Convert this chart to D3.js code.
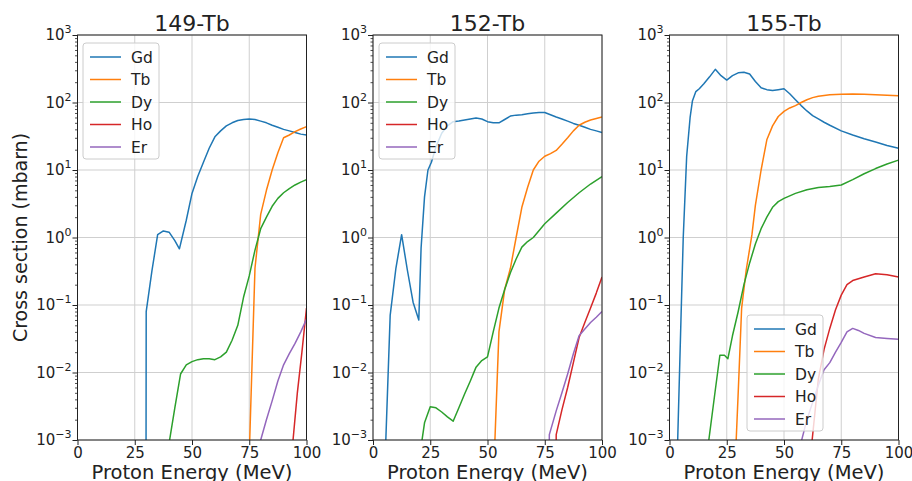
<!DOCTYPE html>
<html><head><meta charset="utf-8">
<script src="https://cdn.jsdelivr.net/npm/d3@7"></script>
<style>
body{margin:0;background:#fff}
text{font-family:"DejaVu Sans",sans-serif;fill:#222}
</style>
</head><body>
<svg id="c" width="912" height="481"></svg>
<script>
// ---------- data (energy MeV, cross section mbarn; 0 = no production) ----------
const elements = ["Gd","Tb","Dy","Ho","Er"];
const colors = ["#1f77b4","#ff7f0e","#2ca02c","#d62728","#9467bd"];
const titles = ["149-Tb","152-Tb","155-Tb"];
const xTicks = [0,25,50,75,100];
const yMajor = [1e-3,1e-2,1e-1,1,10,100,1000];
const yExp = ["\u22123","\u22122","\u22121","0","1","2","3"];

const p149_Gd = [[29,0],[30,0.08],[32.5,0.32],[35,1.1],[37.5,1.25],[40,1.2],[42.5,0.9],[44.5,0.68],[47.5,1.8],[50,4.5],[52.5,8],[55,13],[57.5,21],[60,31],[62.5,38],[65,45],[67.5,50],[70,54],[72.5,56],[75,57],[77.5,56],[80,53],[82.5,50],[85,46],[87.5,43],[90,40],[92.5,38],[95,36],[97.5,34],[100,33]];
const p149_Tb = [[74,0],[75,0.0006],[77.5,0.35],[80,2.2],[82.5,5],[85,10],[87.5,18],[90,30],[92.5,33],[95,37],[97.5,40.5],[100,44]];
const p149_Dy = [[39,0],[40,0.0009],[42.5,0.003],[45,0.0095],[47.5,0.013],[50,0.0145],[52.5,0.0155],[55,0.016],[57.5,0.016],[60,0.0155],[62.5,0.017],[65,0.02],[67.5,0.03],[70,0.05],[72.5,0.13],[75,0.27],[77.5,0.65],[80,1.35],[82.5,2.0],[85,2.9],[87.5,3.8],[90,4.6],[92.5,5.3],[95,6.0],[97.5,6.6],[100,7.2]];
const p149_Ho = [[93,0],[94,0.0009],[96,0.005],[98,0.02],[100,0.09]];
const p149_Er = [[79,0],[80,0.001],[82.5,0.002],[85,0.0038],[87.5,0.0075],[90,0.013],[92.5,0.019],[95,0.027],[97.5,0.04],[100,0.062]];

const p152_Gd = [[4.5,0],[5.5,0.0008],[7.5,0.07],[10,0.35],[12.5,1.1],[15,0.33],[17.5,0.11],[20,0.06],[21,0.7],[22.5,4],[24,10],[25.5,13],[27.5,22],[30,35],[32.5,45],[35,52],[37.5,53],[40,55],[42.5,57],[45,59],[47.5,57],[50,52],[52.5,50],[55,50],[57.5,56],[60,63],[62.5,65],[65,66],[67.5,68],[70,70],[72.5,71],[75,71],[77.5,66],[80,61],[82.5,57],[85,53],[87.5,49],[90,46],[92.5,43],[95,40],[97.5,38],[100,36]];
const p152_Tb = [[52,0],[53,0.0006],[55,0.04],[57.5,0.17],[60,0.35],[62.5,1.0],[65,2.8],[67.5,5.5],[70,10],[72.5,13.5],[75,16],[77.5,17.5],[80,19.5],[82.5,24],[85,30],[87.5,38],[90,46],[92.5,51],[95,55],[97.5,58],[100,61]];
const p152_Dy = [[20,0],[21,0.0008],[22.5,0.0018],[25,0.0031],[27.5,0.003],[30,0.0026],[32.5,0.0022],[35,0.0019],[37.5,0.003],[40,0.0048],[42.5,0.0075],[45,0.012],[47.5,0.015],[50,0.017],[52.5,0.04],[55,0.09],[57.5,0.17],[60,0.3],[62.5,0.48],[65,0.72],[67.5,0.87],[70,1.0],[75,1.6],[80,2.3],[85,3.3],[90,4.6],[95,6.2],[100,8.0]];
const p152_Ho = [[79,0],[80,0.0012],[82.5,0.0028],[85,0.006],[87.5,0.014],[90,0.033],[92.5,0.055],[95,0.09],[97.5,0.15],[100,0.26]];
const p152_Er = [[76,0],[77,0.0012],[80,0.0027],[82.5,0.005],[85,0.0095],[87.5,0.019],[90,0.035],[92.5,0.044],[95,0.055],[97.5,0.066],[100,0.08]];

const p155_Gd = [[2.5,0],[3.5,0.0008],[5,0.06],[6,1.0],[7.5,16],[9,60],[10,105],[11.5,145],[13,160],[15,190],[17.5,240],[20,310],[22.5,250],[25,215],[27.5,250],[30,275],[32.5,280],[35,265],[37.5,205],[40,165],[42.5,155],[45,150],[47.5,155],[50,160],[52.5,135],[55,110],[57.5,90],[60,75],[62.5,64],[65,57],[67.5,51],[70,46],[75,38],[80,33],[85,29],[90,26],[95,23],[100,21]];
const p155_Tb = [[28,0],[29,0.0008],[30,0.005],[31.5,0.09],[33.5,0.33],[36,1.1],[37.5,3],[40,10],[42.5,28],[45,45],[47.5,62],[50,74],[52.5,83],[55,90],[57.5,100],[60,110],[62.5,118],[65,124],[70,130],[75,133],[80,134],[85,133],[90,130],[95,128],[100,126]];
const p155_Dy = [[16,0],[17,0.0009],[20,0.0055],[22,0.018],[24,0.018],[25.5,0.016],[27.5,0.035],[30,0.08],[32.5,0.2],[35,0.42],[37.5,0.8],[40,1.35],[42.5,2.0],[45,2.8],[47.5,3.4],[50,3.8],[55,4.5],[60,5.1],[65,5.5],[70,5.7],[75,6.0],[80,7.2],[85,8.8],[90,10.5],[95,12.3],[100,14]];
const p155_Ho = [[61,0],[62,0.0008],[65,0.008],[67.5,0.022],[70,0.045],[72.5,0.085],[75,0.14],[77.5,0.2],[80,0.23],[85,0.26],[90,0.29],[95,0.28],[100,0.26]];
const p155_Er = [[56,0],[57,0.0008],[60,0.002],[65,0.0065],[67.5,0.011],[70,0.014],[72.5,0.02],[75,0.028],[77.5,0.04],[80,0.045],[82.5,0.042],[85,0.038],[90,0.033],[95,0.032],[100,0.031]];

const panelData = [
  [p149_Gd,p149_Tb,p149_Dy,p149_Ho,p149_Er],
  [p152_Gd,p152_Tb,p152_Dy,p152_Ho,p152_Er],
  [p155_Gd,p155_Tb,p155_Dy,p155_Ho,p155_Er]
];

// ---------- layout ----------
const svg = d3.select("#c");
const yTop = 35, yBot = 440, pw = 229;
const lefts = [77.5, 373, 669.5];
const legendPos = [{x:83,y:43},{x:379,y:43},{x:747,y:315}];

const y = d3.scaleLog().domain([1e-3,1e3]).range([yBot, yTop]);
const minors = [];
for (let e=-3; e<3; e++) for (let m=2; m<=9; m++) minors.push(m*Math.pow(10,e));

panelData.forEach((series, pi) => {
  const L = lefts[pi];
  const x = d3.scaleLinear().domain([0,100]).range([L, L+pw]);
  const g = svg.append("g");

  // grid
  g.append("g").selectAll("line").data(xTicks).join("line")
    .attr("x1", d=>x(d)).attr("x2", d=>x(d)).attr("y1", yTop).attr("y2", yBot)
    .attr("stroke", "#cfcfcf").attr("stroke-width", 1);
  g.append("g").selectAll("line").data(yMajor).join("line")
    .attr("x1", L).attr("x2", L+pw).attr("y1", d=>y(d)).attr("y2", d=>y(d))
    .attr("stroke", "#cfcfcf").attr("stroke-width", 1);

  // clip
  const cid = "clip"+pi;
  svg.append("clipPath").attr("id", cid).append("rect")
    .attr("x", L).attr("y", yTop).attr("width", pw).attr("height", yBot-yTop);

  const line = d3.line().x(d=>x(d[0])).y(d=>y(Math.max(d[1], 1e-30)));
  const lg = g.append("g").attr("clip-path", `url(#${cid})`);
  series.forEach((s, si) => {
    lg.append("path").attr("d", line(s)).attr("fill","none")
      .attr("stroke", colors[si]).attr("stroke-width", 1.5).attr("stroke-linejoin","round");
  });

  // axes
  const xa = g.append("g").attr("transform", `translate(0,${yBot})`)
    .call(d3.axisBottom(x).tickValues(xTicks).tickSize(5).tickPadding(2).tickFormat(d3.format("d")));
  xa.select(".domain").remove();
  xa.selectAll("line").attr("stroke","#222");
  xa.selectAll("text").attr("font-size", 15).attr("font-family","DejaVu Sans").attr("fill","#222");

  const ya = g.append("g").attr("transform", `translate(${L},0)`)
    .call(d3.axisLeft(y).tickValues(yMajor).tickSize(5).tickFormat(""));
  ya.select(".domain").remove();
  ya.selectAll("line").attr("stroke","#222");
  const ym = g.append("g").attr("transform", `translate(${L},0)`)
    .call(d3.axisLeft(y).tickValues(minors).tickSize(2.5).tickFormat(""));
  ym.select(".domain").remove();
  ym.selectAll("line").attr("stroke","#222").attr("stroke-width",0.8);

  // y tick labels "10^n", right-aligned as a whole
  const lab = g.append("g").selectAll("text").data(yMajor).join("text")
    .attr("x", L-6).attr("y", d=>y(d)+5).attr("text-anchor","end").attr("font-size",15);
  lab.append("tspan").text("10");
  lab.append("tspan").attr("font-size",11).attr("dy",-7).text((d,i)=>yExp[i]);

  // spines
  g.append("rect").attr("x", L).attr("y", yTop).attr("width", pw).attr("height", yBot-yTop)
    .attr("fill","none").attr("stroke","#222").attr("stroke-width",1);

  // title
  g.append("text").attr("x", L+pw/2).attr("y", 31).attr("text-anchor","middle")
    .attr("font-size", 22).text(titles[pi]);
  // x label
  g.append("text").attr("x", L+pw/2).attr("y", 478.5).attr("text-anchor","middle")
    .attr("font-size", 19.5).text("Proton Energy (MeV)");

  // legend
  const lp = legendPos[pi];
  const leg = g.append("g").attr("transform", `translate(${lp.x},${lp.y})`);
  leg.append("rect").attr("width", 76).attr("height", 116).attr("rx", 3)
    .attr("fill","#fff").attr("fill-opacity",0.8).attr("stroke","#cccccc").attr("stroke-width",1);
  elements.forEach((el, i) => {
    const ry = 14 + i*22.5;
    leg.append("line").attr("x1", 7).attr("x2", 38).attr("y1", ry).attr("y2", ry)
      .attr("stroke", colors[i]).attr("stroke-width", 1.5);
    leg.append("text").attr("x", 48).attr("y", ry+5.5).attr("font-size", 15.5).text(el);
  });
});

// y label
svg.append("text").attr("transform", `translate(27,${(yTop+yBot)/2}) rotate(-90)`)
  .attr("text-anchor","middle").attr("font-size", 19).text("Cross section (mbarn)");
</script>
</body></html>
